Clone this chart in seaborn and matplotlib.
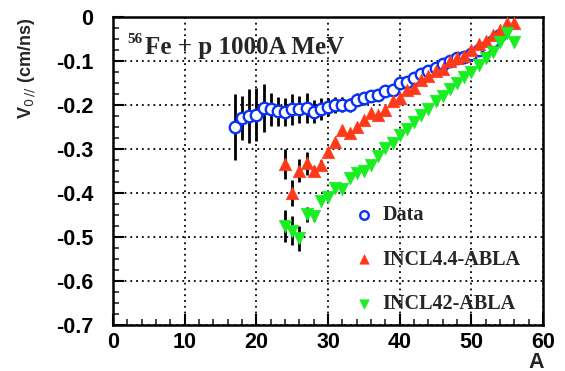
import numpy as np
import pandas as pd
import matplotlib
matplotlib.use("Agg")
import matplotlib.pyplot as plt
import seaborn as sns
from matplotlib.ticker import MultipleLocator

# ---- data ----
data_A = list(range(17, 55))
data_v = [-0.250, -0.230, -0.225, -0.222, -0.207, -0.210, -0.214, -0.215, -0.210, -0.210,
          -0.207, -0.215, -0.208, -0.205, -0.200, -0.199, -0.200, -0.188, -0.185, -0.180,
          -0.177, -0.168, -0.165, -0.150, -0.147, -0.139, -0.130, -0.122, -0.115, -0.107,
          -0.101, -0.094, -0.090, -0.083, -0.076, -0.069, -0.055, -0.040]
data_err = [0.075, 0.050, 0.062, 0.060, 0.054, 0.037, 0.033, 0.032, 0.035, 0.031,
            0.034, 0.027, 0.025, 0.020, 0.018, 0.017, 0.015, 0.015, 0.014, 0.012,
            0.012, 0.010, 0.010, 0.008, 0.007, 0.006, 0.006, 0.005, 0.005, 0.004,
            0.004, 0.004, 0.004, 0.004, 0.004, 0.004, 0.004, 0.004]

incl44_A = list(range(24, 57))
incl44_v = [-0.335, -0.400, -0.349, -0.332, -0.350, -0.336, -0.306, -0.283, -0.257, -0.263,
            -0.249, -0.234, -0.219, -0.223, -0.211, -0.190, -0.183, -0.166, -0.162, -0.143,
            -0.134, -0.122, -0.118, -0.101, -0.094, -0.088, -0.075, -0.062, -0.054, -0.041,
            -0.030, -0.014, -0.014]
incl44_err = [0.034, 0.030, 0.026, 0.026, 0.012, 0.010, 0.006] + [0.0] * 26

incl42_A = list(range(24, 57))
incl42_v = [-0.475, -0.486, -0.503, -0.448, -0.453, -0.418, -0.408, -0.389, -0.392, -0.367,
            -0.354, -0.349, -0.336, -0.317, -0.298, -0.286, -0.268, -0.255, -0.238, -0.223,
            -0.209, -0.192, -0.180, -0.164, -0.149, -0.136, -0.124, -0.109, -0.094, -0.079,
            -0.056, -0.037, -0.056]
incl42_err = [0.036, 0.033, 0.028, 0.017, 0.010, 0.006] + [0.0] * 27

labels = ["Data", "INCL4.4-ABLA", "INCL42-ABLA"]
x_ticks = [0, 10, 20, 30, 40, 50, 60]
y_ticks = [0, -0.1, -0.2, -0.3, -0.4, -0.5, -0.6, -0.7]

BLUE = "#0a32f5"
RED = "#ff3a1a"
GREEN = "#18ee22"

sns.set_theme(style="white")
plt.rcParams["font.family"] = ["Liberation Sans", "DejaVu Sans"]

W, H = 565, 371
fig = plt.figure(figsize=(W / 100, H / 100), dpi=100)
ax = fig.add_axes([113 / W, 1 - 325 / H, (543 - 113) / W, (325 - 17) / H])
ax.set_facecolor("white")

# error bars
ax.errorbar(data_A, data_v, yerr=data_err, fmt="none", ecolor="black", elinewidth=2.0, capsize=0, zorder=2)
ax.errorbar(incl44_A, incl44_v, yerr=incl44_err, fmt="none", ecolor="black", elinewidth=2.0, capsize=0, zorder=2)
ax.errorbar(incl42_A, incl42_v, yerr=incl42_err, fmt="none", ecolor="black", elinewidth=2.0, capsize=0, zorder=2)

df_d = pd.DataFrame({"A": data_A, "v": data_v})
df_r = pd.DataFrame({"A": incl44_A, "v": incl44_v})
df_g = pd.DataFrame({"A": incl42_A, "v": incl42_v})

sns.scatterplot(data=df_d, x="A", y="v", ax=ax, marker="o", s=68, facecolor="white",
                edgecolor=BLUE, linewidth=1.7, label=labels[0], zorder=3)
sns.scatterplot(data=df_r, x="A", y="v", ax=ax, marker="^", s=80, color=RED,
                edgecolor=RED, linewidth=0.5, label=labels[1], zorder=4)
sns.scatterplot(data=df_g, x="A", y="v", ax=ax, marker="v", s=80, color=GREEN,
                edgecolor=GREEN, linewidth=0.5, label=labels[2], zorder=4)

ax.set_xlim(0, 60)
ax.set_ylim(-0.7, 0)
ax.set_xticks(x_ticks)
ax.set_yticks(y_ticks)
ax.set_xticklabels([str(t) for t in x_ticks])
ax.set_yticklabels(["0" if t == 0 else f"{t:.1f}" for t in y_ticks])
ax.xaxis.set_minor_locator(MultipleLocator(2))
ax.yaxis.set_minor_locator(MultipleLocator(0.025))
ax.tick_params(axis="both", which="major", direction="in", length=8, width=1.5,
               labelsize=15.5, colors="black", bottom=True, left=True, top=False, right=False)
ax.tick_params(axis="both", which="minor", direction="in", length=4, width=1.2,
               bottom=True, left=True, top=False, right=False)
ax.tick_params(axis="y", which="major", pad=14)
ax.tick_params(axis="x", which="major", pad=5)
for lab in ax.get_xticklabels() + ax.get_yticklabels():
    lab.set_fontweight("bold")

ax.grid(True, which="major", color="black", linestyle=(0, (1, 2.2)), linewidth=1.3)
ax.set_axisbelow(True)
for s in ax.spines.values():
    s.set_color("black")
    s.set_linewidth(1.8)
    s.set_visible(True)

ax.set_xlabel("")
ax.set_ylabel("")
fig.text(544 / W, 1 - 362 / H, "A", ha="right", va="center", fontsize=15.5, fontweight="bold")
fig.text(27 / W, 1 - 18 / H, r"V$_{0\,//}$ (cm/ns)", rotation=90, ha="center", va="top",
         fontsize=13, fontweight="bold")

# title text
fig.text(127 / W, 1 - 33 / H, "56", ha="left", va="top", fontsize=11, fontweight="bold",
         family=["Liberation Serif"])
fig.text(145 / W, 1 - 54 / H, "Fe + p 1000A MeV", ha="left", va="baseline", fontsize=18,
         fontweight="bold", family=["Liberation Serif"])

leg = ax.legend(loc="upper left", bbox_to_anchor=((346 - 113) / (543 - 113), (325 - 197) / (325 - 17)),
                frameon=False, labelspacing=1.22, handlelength=1.0, handletextpad=0.4, borderaxespad=0,
                prop={"family": "Liberation Serif", "weight": "bold", "size": 14.5},
                markerscale=0.75)

fig.savefig("out.png", dpi=100)
